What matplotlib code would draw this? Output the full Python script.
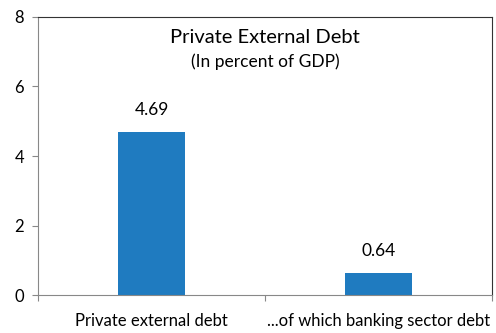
import matplotlib.pyplot as plt

# Debt ratios, percent of GDP
categories = ["Private external debt", "...of which banking sector debt"]
values = [4.69, 0.64]
value_labels = ["4.69", "0.64"]

plt.rcParams['font.family'] = ['Lato', 'DejaVu Sans']

fig = plt.figure(figsize=(4.96, 3.33), dpi=100)
ax = fig.add_axes([0.0766, 0.114, 0.9154, 0.835])

x = range(len(categories))
ax.bar(x, values, width=0.295, color="#1F7BC0")
for i, v in enumerate(values):
    ax.annotate(value_labels[i], (i, v), xytext=(0, 10), textcoords="offset points",
                ha="center", va="bottom", fontsize=12.5)

ax.set_xlim(-0.5, 1.5)
ax.set_ylim(0, 8)
ax.set_yticks([0, 2, 4, 6, 8])
ax.set_xticks([-0.5, 0.5, 1.5], minor=False)
ax.set_xticklabels([])
ax.set_xticks(list(x), minor=True)
ax.set_xticklabels(categories, minor=True, fontsize=12)
ax.tick_params(axis="x", which="minor", length=0, pad=13)
ax.tick_params(axis="x", which="major", length=4, color="#888888", direction="out")
ax.tick_params(axis="y", length=4, color="#888888", labelsize=12, pad=6)

ax.spines["left"].set_color("#888888")
ax.spines["bottom"].set_color("#888888")
ax.spines["top"].set_color("#333333")
ax.spines["right"].set_color("#333333")

ax.text(0.5, 0.927, "Private External Debt", transform=ax.transAxes, ha="center",
        va="center", fontsize=14.5)
ax.text(0.5, 0.84, "(In percent of GDP)", transform=ax.transAxes, ha="center",
        va="center", fontsize=12.5)

fig.savefig("out.png", dpi=100)
